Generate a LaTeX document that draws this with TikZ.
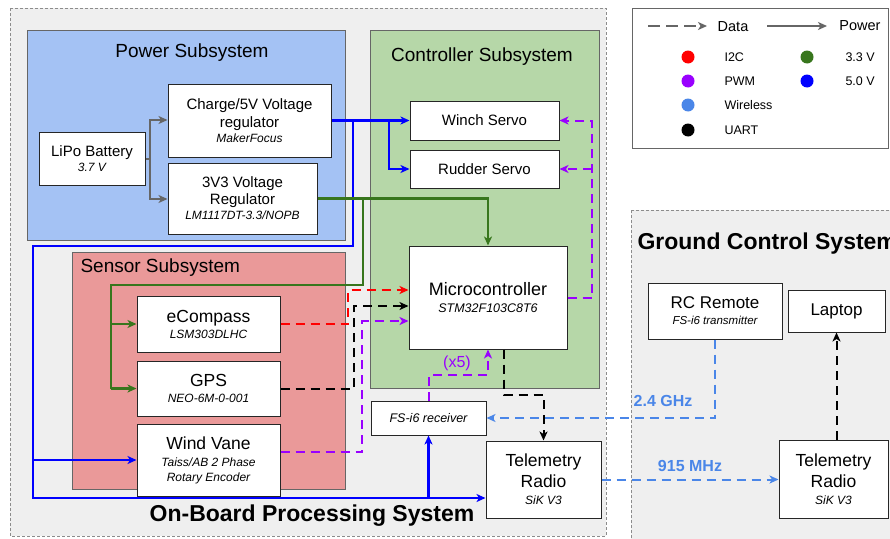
\documentclass[tikz,border=0pt]{standalone}
\usepackage{fontspec}
\setmainfont{Liberation Sans}
\usetikzlibrary{arrows.meta}
\definecolor{panel}{HTML}{EFEFEF}
\definecolor{pwrfill}{HTML}{A4C2F4}
\definecolor{ctlfill}{HTML}{B6D7A8}
\definecolor{senfill}{HTML}{EA9999}
\definecolor{cI2C}{HTML}{FF0000}
\definecolor{cPWM}{HTML}{9900FF}
\definecolor{cWL}{HTML}{4A86E8}
\definecolor{cUART}{HTML}{000000}
\definecolor{c33}{HTML}{38761D}
\definecolor{c50}{HTML}{0000FF}
\definecolor{bord}{HTML}{666666}
\newcommand\fsz[2]{\fontsize{#1}{#2}\selectfont}
\begin{document}
\begin{tikzpicture}[x=1pt,y=-1pt,
  tip/.style={-{Stealth[length=9pt,width=8pt,inset=2.5pt]}},
  pw5/.style={draw=c50,line width=2.2pt,tip},
  pw3/.style={draw=c33,line width=2.2pt,tip},
  pw3n/.style={draw=c33,line width=2.2pt},
  bat/.style={draw=bord,line width=2pt,tip},
  dat/.style={line width=2pt,dash pattern=on 9pt off 6pt,tip},
  box/.style={draw=black!85,line width=1pt,fill=white,align=center,inner sep=0pt,font=\fsz{15}{18}},
  subsys/.style={draw=bord,line width=1pt},
  area/.style={draw=black!45,line width=0.8pt,dash pattern=on 3pt off 2pt,fill=panel},
  dot/.style={circle,inner sep=0pt,minimum size=13pt},
  leg/.style={anchor=west,font=\fsz{12.5}{14}},
  ttl/.style={font=\fsz{19}{22}},
  bigttl/.style={font=\bfseries\fsz{23}{26}}
]
\useasboundingbox (0,0) rectangle (890,538);
\clip (0,0) rectangle (890,538);
\fill[white] (0,0) rectangle (890,538);

% areas
\path[area] (10,8) rectangle (606,536);
\path[area] (631,210) rectangle (900,560);
\path[draw=bord,line width=1pt,fill=white] (632,8) rectangle (888,148);

% subsystems
\path[subsys,fill=pwrfill] (27,30) rectangle (345,240);
\path[subsys,fill=ctlfill] (370,30) rectangle (599,388);
\path[subsys,fill=senfill] (72,252) rectangle (345,489);

\node[ttl] (tpow) at (192,53) {Power Subsystem};
\node[ttl] (tctl) at (482,57) {Controller Subsystem};
\node[ttl,anchor=west] (tsen) at (77,268) {Sensor Subsystem};
\node[bigttl] (tob) at (312,516) {On-Board Processing System};
\node[bigttl,anchor=west] (tgc) at (634,244) {Ground Control System};

% boxes
\node[box,minimum width=106,minimum height=53] (lipo) at (92,158.5)
  {LiPo Battery\\[-3pt]{\fsz{12}{13}\itshape 3.7 V}};
\node[box,minimum width=163,minimum height=73] (charge) at (249.5,120.5)
  {Charge/5V Voltage\\[0pt]regulator\\[-3pt]{\fsz{12}{13}\itshape MakerFocus}};
\node[box,minimum width=149,minimum height=71] (v33) at (242.5,198.5)
  {3V3 Voltage\\[-1pt]Regulator\\[-3pt]{\fsz{12}{13}\itshape LM1117DT-3.3/NOPB}};
\node[box,minimum width=149,minimum height=39] (winch) at (484.5,120.5) {Winch Servo};
\node[box,minimum width=149,minimum height=38] (rudder) at (484.5,169) {Rudder Servo};
\node[box,minimum width=158,minimum height=103,font=\fsz{18}{21}] (mcu) at (488,297.5)
  {Microcontroller\\[-4pt]{\fsz{12.5}{14}\itshape STM32F103C8T6}};
\node[box,minimum width=143,minimum height=56,font=\fsz{17.5}{20}] (ecomp) at (208.5,324)
  {eCompass\\[-4pt]{\fsz{12}{13}\itshape LSM303DLHC}};
\node[box,minimum width=143,minimum height=55,font=\fsz{17.5}{20}] (gps) at (208.5,388.5)
  {GPS\\[-4pt]{\fsz{12}{13}\itshape NEO-6M-0-001}};
\node[box,minimum width=143,minimum height=72,font=\fsz{17.5}{20}] (vane) at (208.5,460)
  {Wind Vane\\[-3pt]{\fsz{12}{13}\itshape Taiss/AB 2 Phase}\\[-5pt]{\fsz{12}{13}\itshape Rotary Encoder}};
\node[box,minimum width=115,minimum height=34,font=\fsz{12.5}{14}\itshape] (fsrx) at (428.5,418) {FS-i6 receiver};
\node[box,minimum width=115,minimum height=77,font=\fsz{17.5}{21}] (telob) at (543.5,479.5)
  {Telemetry\\Radio\\[-4pt]{\fsz{12}{13}\itshape SiK V3}};
\node[box,minimum width=134,minimum height=56,font=\fsz{17}{20}] (rc) at (715,311)
  {RC Remote\\[-4pt]{\fsz{11.5}{13}\itshape FS-i6 transmitter}};
\node[box,minimum width=97,minimum height=42,font=\fsz{17}{20}] (laptop) at (836.5,311) {Laptop};
\node[box,minimum width=109,minimum height=78,font=\fsz{17.5}{21}] (telgnd) at (833.5,479)
  {Telemetry\\Radio\\[-4pt]{\fsz{12}{13}\itshape SiK V3}};

% battery feeds
\draw[bat] (lipo.east) -- (150,158.5) -- (150,120) -- (charge.west |- 0,120);
\draw[bat] (150,158.5) -- (150,199) -- (v33.west |- 0,199);

% 5 V power
\draw[pw5] (charge.east) -- (winch.west);
\draw[pw5] (389,120.5) -- (389,169) -- (rudder.west);
\draw[pw5] (353,120.5) -- (353,246) -- (33,246) -- (33,498) -- (telob.west |- 0,498);
\draw[pw5] (33,460) -- (vane.west);
\draw[pw5] (428.5,498) -- (fsrx.south);

% 3.3 V power
\draw[pw3] (v33.east) -- (488,198.5) -- (mcu.north);
\draw[pw3n] (363,198.5) -- (363,285) -- (111,285) -- (111,388.5);
\draw[pw3] (111,388.5) -- (gps.west);
\draw[pw3] (111,324) -- (ecomp.west);

% data
\draw[dat,draw=cI2C] (ecomp.east) -- (348,324) -- (348,290) -- (mcu.west |- 0,290);
\draw[dat,draw=cUART] (gps.east) -- (354,388.5) -- (354,306) -- (mcu.west |- 0,306);
\draw[dat,draw=cPWM] (vane.east |- 0,452) -- (362,452) -- (362,321) -- (mcu.west |- 0,321);
\draw[dat,draw=cPWM] (mcu.east |- 0,298) -- (592,298) -- (592,120.5) -- (winch.east);
\draw[dat,draw=cPWM] (592,169) -- (rudder.east);
\draw[dat,draw=cPWM] (fsrx.north) -- (428.5,375) -- (488,375) -- (mcu.south);
\draw[dat,draw=cUART] (mcu.south -| 504,0) -- (504,395) -- (543.5,395) -- (telob.north);
\draw[dat,draw=cWL] (rc.south) -- (715,418) -- (fsrx.east);
\draw[dat,draw=cWL] (telob.east) -- (telgnd.west |- telob.east);
\draw[dat,draw=cUART] (laptop.south |- telgnd.north) -- (laptop.south);

\node[font=\fsz{16}{18},text=cPWM] (x5) at (457,363) {(x5)};
\node[font=\bfseries\fsz{16}{18},text=cWL] (ghz) at (663,401) {2.4 GHz};
\node[font=\bfseries\fsz{16}{18},text=cWL] (mhz) at (690,466) {915 MHz};

% legend
\coordinate (ld1) at (648,26); \coordinate (ld2) at (707,26);
\coordinate (lp1) at (767,26); \coordinate (lp2) at (827,26);
\draw[draw=bord,line width=2pt,dash pattern=on 12pt off 6pt,tip] (ld1) -- (ld2);
\draw[draw=bord,line width=2pt,tip] (lp1) -- (lp2);
\node[font=\fsz{14.5}{16}] (ldata) at (733,27) {Data};
\node[font=\fsz{14.5}{16}] (lpower) at (860,26) {Power};
\node[dot,fill=cI2C] (dI) at (688,57) {};
\node[dot,fill=cPWM] (dP) at (688,81) {};
\node[dot,fill=cWL] (dW) at (688,105) {};
\node[dot,fill=cUART] (dU) at (688,130) {};
\node[dot,fill=c33] (d3) at (807,57) {};
\node[dot,fill=c50] (d5) at (807,81) {};
\node[leg] (lI) at (721,57) {I2C};
\node[leg] (lP) at (721,81) {PWM};
\node[leg] (lW) at (721,105) {Wireless};
\node[leg] (lU) at (721,130) {UART};
\node[leg] (l3) at (842,57) {3.3 V};
\node[leg] (l5) at (842,81) {5.0 V};
\end{tikzpicture}
\end{document}
